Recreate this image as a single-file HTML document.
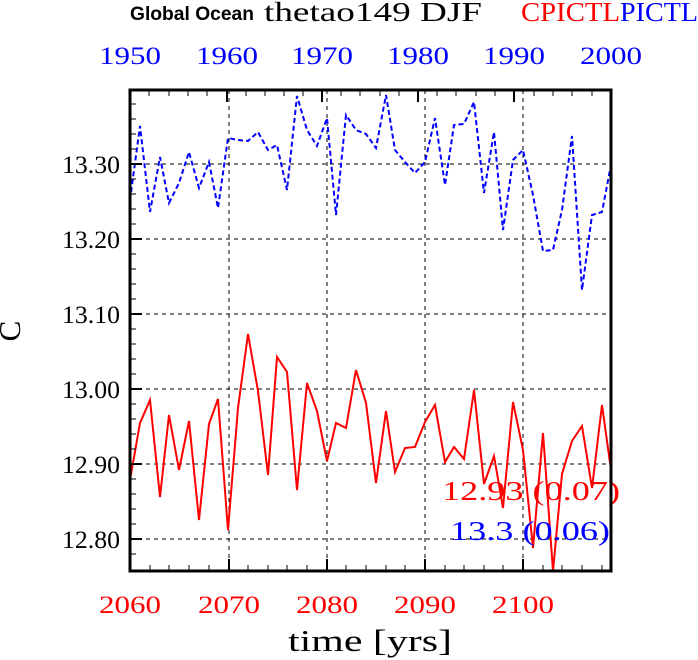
<!DOCTYPE html>
<html><head><meta charset="utf-8"><style>body{margin:0;background:#fff}svg{display:block}</style></head>
<body>
<svg width="698" height="660" viewBox="0 0 698 660" xmlns="http://www.w3.org/2000/svg">
<rect width="698" height="660" fill="#fff"/>
<text x="130" y="20" font-family="Liberation Sans, sans-serif" font-size="19" font-weight="bold" textLength="124" lengthAdjust="spacingAndGlyphs">Global Ocean</text>
<text x="264" y="21" font-family="Liberation Serif, serif" font-size="27" textLength="218" lengthAdjust="spacingAndGlyphs">thetao149 DJF</text>
<text x="521" y="21" font-family="Liberation Serif, serif" font-size="27" fill="#f00" textLength="99" lengthAdjust="spacingAndGlyphs">CPICTL</text>
<text x="620" y="21" font-family="Liberation Serif, serif" font-size="27" fill="#00f" textLength="78" lengthAdjust="spacingAndGlyphs">PICTL</text>
<g font-family="Liberation Serif, serif" font-size="25" fill="#00f">
<text x="99" y="64" textLength="62" lengthAdjust="spacingAndGlyphs">1950</text><text x="196" y="64" textLength="62" lengthAdjust="spacingAndGlyphs">1960</text><text x="291" y="64" textLength="62" lengthAdjust="spacingAndGlyphs">1970</text><text x="387" y="64" textLength="62" lengthAdjust="spacingAndGlyphs">1980</text><text x="483" y="64" textLength="62" lengthAdjust="spacingAndGlyphs">1990</text><text x="580" y="64" textLength="62" lengthAdjust="spacingAndGlyphs">2000</text>
</g>
<g stroke="#000" stroke-width="1" stroke-dasharray="4,4">
<line x1="229" y1="90" x2="229" y2="571"/><line x1="327" y1="90" x2="327" y2="571"/><line x1="425" y1="90" x2="425" y2="571"/><line x1="523" y1="90" x2="523" y2="571"/>
<line x1="130" y1="164" x2="611" y2="164"/><line x1="130" y1="239" x2="611" y2="239"/><line x1="130" y1="314" x2="611" y2="314"/><line x1="130" y1="389" x2="611" y2="389"/><line x1="130" y1="464" x2="611" y2="464"/><line x1="130" y1="539" x2="611" y2="539"/>
</g>
<polyline fill="none" stroke="#00f" stroke-width="2" stroke-dasharray="5,3" points="130,200 140,126 150,212 160,157 169,203 179,183 189,152 199,188 209,162 218,208 228,138 238,140 248,141 258,132 268,150 277,145 287,190 297,96 307,130 317,146 327,118 336,215 346,115 356,130 366,134 376,148 386,95 395,150 405,162 415,173 425,162 435,118 445,185 454,125 464,124 474,102 484,193 494,132 503,230 513,160 523,150 533,195 543,251 553,250 562,210 572,136 582,290 592,215 602,212 610,170"/>
<polyline fill="none" stroke="#f00" stroke-width="2" points="130,480 140,423 150,400 160,497 169,415 179,470 189,421 199,520 209,424 218,399 228,530 238,408 248,334 258,391 268,475 277,357 287,372 297,490 307,383 317,411 327,461 336,423 346,428 356,370 366,403 376,483 386,411 395,472 405,448 415,447 425,422 435,405 445,462 454,447 464,459 474,390 484,484 494,456 503,508 513,402 523,450 533,548 543,433 553,571 562,474 572,441 582,426 592,488 602,405 611,470"/>
<g font-family="Liberation Serif, serif" font-size="27">
<text x="442" y="500" fill="#f00" textLength="178" lengthAdjust="spacingAndGlyphs">12.93 (0.07)</text>
<text x="450" y="540" fill="#00f" textLength="160" lengthAdjust="spacingAndGlyphs">13.3 (0.06)</text>
</g>
<rect x="130" y="90" width="481" height="481" fill="none" stroke="#000" stroke-width="3"/>
<g stroke="#000" stroke-width="2">
<line x1="229" y1="571" x2="229" y2="559"/><line x1="327" y1="571" x2="327" y2="559"/><line x1="425" y1="571" x2="425" y2="559"/><line x1="523" y1="571" x2="523" y2="559"/>
<line x1="227" y1="90" x2="227" y2="102"/><line x1="322" y1="90" x2="322" y2="102"/><line x1="418" y1="90" x2="418" y2="102"/><line x1="514" y1="90" x2="514" y2="102"/>
<line x1="130" y1="164" x2="142" y2="164"/><line x1="130" y1="239" x2="142" y2="239"/><line x1="130" y1="314" x2="142" y2="314"/><line x1="130" y1="389" x2="142" y2="389"/><line x1="130" y1="464" x2="142" y2="464"/><line x1="130" y1="539" x2="142" y2="539"/>
</g>
<g stroke="#000" stroke-width="1">
<line x1="150" y1="571" x2="150" y2="565"/><line x1="169" y1="571" x2="169" y2="565"/><line x1="189" y1="571" x2="189" y2="565"/><line x1="209" y1="571" x2="209" y2="565"/>
<line x1="248" y1="571" x2="248" y2="565"/><line x1="268" y1="571" x2="268" y2="565"/><line x1="287" y1="571" x2="287" y2="565"/><line x1="307" y1="571" x2="307" y2="565"/>
<line x1="346" y1="571" x2="346" y2="565"/><line x1="366" y1="571" x2="366" y2="565"/><line x1="386" y1="571" x2="386" y2="565"/><line x1="405" y1="571" x2="405" y2="565"/>
<line x1="445" y1="571" x2="445" y2="565"/><line x1="464" y1="571" x2="464" y2="565"/><line x1="484" y1="571" x2="484" y2="565"/><line x1="503" y1="571" x2="503" y2="565"/>
<line x1="543" y1="571" x2="543" y2="565"/><line x1="562" y1="571" x2="562" y2="565"/><line x1="582" y1="571" x2="582" y2="565"/><line x1="602" y1="571" x2="602" y2="565"/>
<line x1="149" y1="90" x2="149" y2="96"/><line x1="169" y1="90" x2="169" y2="96"/><line x1="188" y1="90" x2="188" y2="96"/><line x1="207" y1="90" x2="207" y2="96"/>
<line x1="246" y1="90" x2="246" y2="96"/><line x1="265" y1="90" x2="265" y2="96"/><line x1="284" y1="90" x2="284" y2="96"/><line x1="303" y1="90" x2="303" y2="96"/>
<line x1="341" y1="90" x2="341" y2="96"/><line x1="360" y1="90" x2="360" y2="96"/><line x1="380" y1="90" x2="380" y2="96"/><line x1="399" y1="90" x2="399" y2="96"/>
<line x1="437" y1="90" x2="437" y2="96"/><line x1="456" y1="90" x2="456" y2="96"/><line x1="476" y1="90" x2="476" y2="96"/><line x1="495" y1="90" x2="495" y2="96"/>
<line x1="534" y1="90" x2="534" y2="96"/><line x1="553" y1="90" x2="553" y2="96"/><line x1="572" y1="90" x2="572" y2="96"/><line x1="592" y1="90" x2="592" y2="96"/>
<line x1="130" y1="104" x2="136" y2="104"/><line x1="130" y1="119" x2="136" y2="119"/><line x1="130" y1="134" x2="136" y2="134"/><line x1="130" y1="149" x2="136" y2="149"/>
<line x1="130" y1="179" x2="136" y2="179"/><line x1="130" y1="194" x2="136" y2="194"/><line x1="130" y1="209" x2="136" y2="209"/><line x1="130" y1="224" x2="136" y2="224"/>
<line x1="130" y1="254" x2="136" y2="254"/><line x1="130" y1="269" x2="136" y2="269"/><line x1="130" y1="284" x2="136" y2="284"/><line x1="130" y1="299" x2="136" y2="299"/>
<line x1="130" y1="329" x2="136" y2="329"/><line x1="130" y1="344" x2="136" y2="344"/><line x1="130" y1="359" x2="136" y2="359"/><line x1="130" y1="374" x2="136" y2="374"/>
<line x1="130" y1="404" x2="136" y2="404"/><line x1="130" y1="419" x2="136" y2="419"/><line x1="130" y1="434" x2="136" y2="434"/><line x1="130" y1="449" x2="136" y2="449"/>
<line x1="130" y1="479" x2="136" y2="479"/><line x1="130" y1="494" x2="136" y2="494"/><line x1="130" y1="509" x2="136" y2="509"/><line x1="130" y1="524" x2="136" y2="524"/>
<line x1="130" y1="554" x2="136" y2="554"/>
</g>
<g font-family="Liberation Serif, serif" font-size="25">
<text x="62" y="173" textLength="58" lengthAdjust="spacingAndGlyphs">13.30</text><text x="62" y="248" textLength="58" lengthAdjust="spacingAndGlyphs">13.20</text><text x="62" y="323" textLength="58" lengthAdjust="spacingAndGlyphs">13.10</text><text x="62" y="398" textLength="58" lengthAdjust="spacingAndGlyphs">13.00</text><text x="62" y="473" textLength="58" lengthAdjust="spacingAndGlyphs">12.90</text><text x="62" y="548" textLength="58" lengthAdjust="spacingAndGlyphs">12.80</text>
</g>
<g font-family="Liberation Serif, serif" font-size="25" fill="#f00">
<text x="99" y="613" textLength="62" lengthAdjust="spacingAndGlyphs">2060</text><text x="198" y="613" textLength="62" lengthAdjust="spacingAndGlyphs">2070</text><text x="296" y="613" textLength="62" lengthAdjust="spacingAndGlyphs">2080</text><text x="394" y="613" textLength="62" lengthAdjust="spacingAndGlyphs">2090</text><text x="492" y="613" textLength="62" lengthAdjust="spacingAndGlyphs">2100</text>
</g>
<text x="288" y="651" font-family="Liberation Serif, serif" font-size="31" textLength="164" lengthAdjust="spacingAndGlyphs">time [yrs]</text>
<text x="20" y="331" font-family="Liberation Serif, serif" font-size="31" text-anchor="middle" transform="rotate(-90 20 331)">C</text>
</svg>
</body></html>
